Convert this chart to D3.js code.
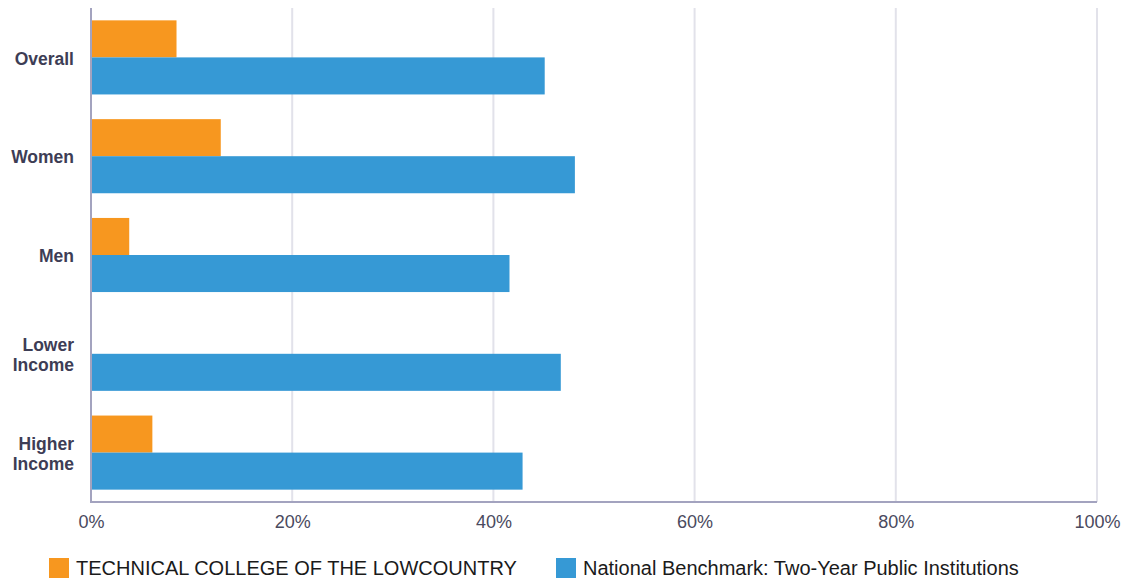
<!DOCTYPE html>
<html><head><meta charset="utf-8">
<script src="https://cdn.jsdelivr.net/npm/d3@7"></script>
<style>body{margin:0;background:#fff;font-family:"Liberation Sans",Arial,sans-serif}</style>
</head><body><svg id="c" width="1121" height="581"></svg>
<script>
const categories = ["Overall", "Women", "Men", "Lower Income", "Higher Income"];
const seriesNames = ["TECHNICAL COLLEGE OF THE LOWCOUNTRY", "National Benchmark: Two-Year Public Institutions"];
const collegeValues = [8.5, 12.9, 3.8, 0, 6.1];
const benchmarkValues = [45.1, 48.1, 41.6, 46.7, 42.9];
const tickValues = [0, 20, 40, 60, 80, 100];
const colors = ["#F7971F", "#3699D5"];

const svg = d3.select("#c");
const x = d3.scaleLinear().domain([0, 100]).range([91, 1097]);
const y = d3.scaleBand().domain(categories).range([8, 502]).paddingInner(0.25).paddingOuter(0.125);
const sub = d3.scaleBand().domain([0, 1]).range([0, y.bandwidth()]);

// gridlines
svg.append("g").selectAll("line").data(tickValues.slice(1)).join("line")
  .attr("x1", d => x(d)).attr("x2", d => x(d)).attr("y1", 8).attr("y2", 502)
  .attr("stroke", "#e2e2ea").attr("stroke-width", 2);

const series = [collegeValues, benchmarkValues];
series.forEach((vals, si) => {
  svg.append("g").selectAll("rect").data(vals).join("rect")
    .attr("x", x(0))
    .attr("y", (d, i) => y(categories[i]) + sub(si))
    .attr("width", d => x(d) - x(0))
    .attr("height", sub.bandwidth())
    .attr("fill", colors[si]);
});

// axes lines
svg.append("line").attr("x1", x(0)).attr("x2", x(0)).attr("y1", 8).attr("y2", 503)
  .attr("stroke", "#a3a3bf").attr("stroke-width", 2);
svg.append("line").attr("x1", x(0)-1).attr("x2", x(100)).attr("y1", 502).attr("y2", 502)
  .attr("stroke", "#a3a3bf").attr("stroke-width", 2);

// x tick labels
const xAxis = d3.axisBottom(x).tickValues(tickValues).tickFormat(d => d + "%").tickSize(0).tickPadding(13);
const gx = svg.append("g").attr("transform", "translate(0,502)").call(xAxis);
gx.select(".domain").remove();
gx.selectAll("text").attr("font-family", "Liberation Sans, Arial, sans-serif").attr("font-size", 18).attr("fill", "#4a4a5e");

// y labels
const gy = svg.append("g");
categories.forEach(c => {
  const words = c.split(" ");
  const cy = y(c) + y.bandwidth() / 2 + 1;
  const lh = 20;
  const t = gy.append("text").attr("x", 74).attr("text-anchor", "end")
    .attr("font-weight", "bold").attr("font-size", 17.5).attr("fill", "#3d3d55")
    .attr("font-family", "Liberation Sans, Arial, sans-serif");
  words.forEach((w, i) => {
    t.append("tspan").attr("x", 74).attr("y", cy + (i - (words.length - 1) / 2) * lh).attr("dy", "0.35em").text(w);
  });
});

// legend
const legendX = [49, 556];
seriesNames.forEach((n, i) => {
  const g = svg.append("g").attr("transform", `translate(${legendX[i]},558)`);
  g.append("rect").attr("width", 20).attr("height", 20).attr("fill", colors[i]);
  g.append("text").attr("x", 27).attr("y", 10).attr("dy", "0.35em").attr("font-size", 20)
    .attr("font-family", "Liberation Sans, Arial, sans-serif").attr("fill", "#1a1a1a").text(n);
});
</script></body></html>
